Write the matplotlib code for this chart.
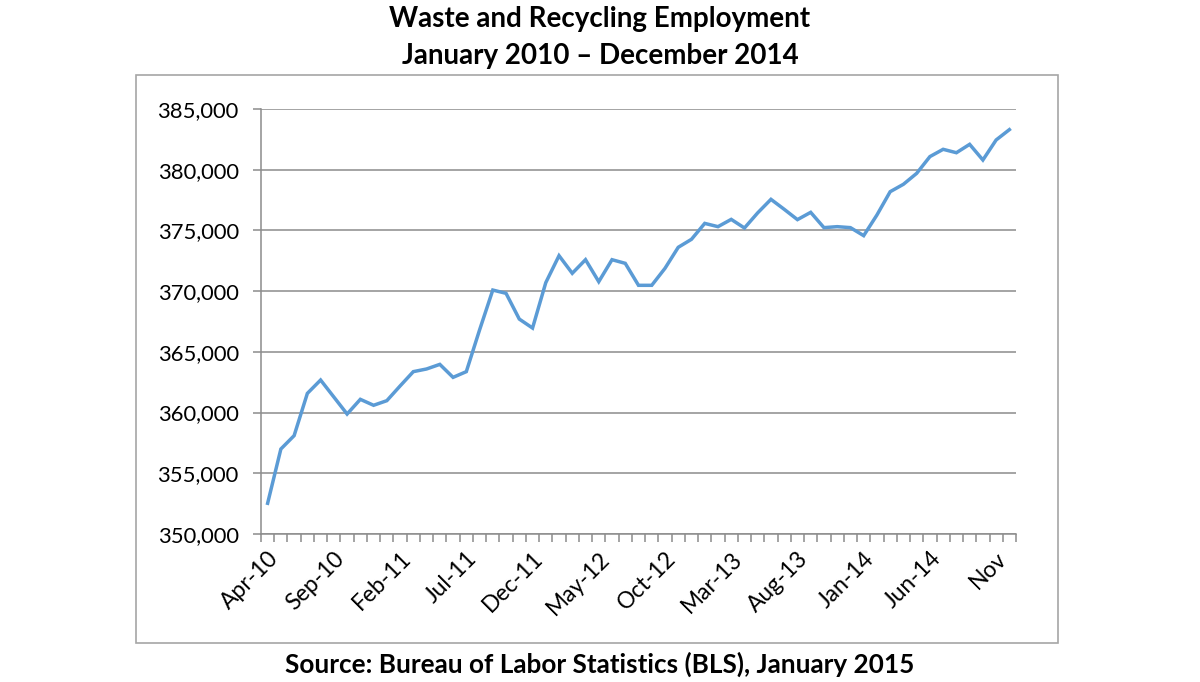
import numpy as np
import matplotlib.pyplot as plt
from matplotlib.patches import Rectangle
from matplotlib.ticker import FuncFormatter

# monthly employment, Apr-10 .. Dec-14
months = ['Apr-10', 'May-10', 'Jun-10', 'Jul-10', 'Aug-10', 'Sep-10', 'Oct-10', 'Nov-10', 'Dec-10',
          'Jan-11', 'Feb-11', 'Mar-11', 'Apr-11', 'May-11', 'Jun-11', 'Jul-11', 'Aug-11', 'Sep-11',
          'Oct-11', 'Nov-11', 'Dec-11', 'Jan-12', 'Feb-12', 'Mar-12', 'Apr-12', 'May-12', 'Jun-12',
          'Jul-12', 'Aug-12', 'Sep-12', 'Oct-12', 'Nov-12', 'Dec-12', 'Jan-13', 'Feb-13', 'Mar-13',
          'Apr-13', 'May-13', 'Jun-13', 'Jul-13', 'Aug-13', 'Sep-13', 'Oct-13', 'Nov-13', 'Dec-13',
          'Jan-14', 'Feb-14', 'Mar-14', 'Apr-14', 'May-14', 'Jun-14', 'Jul-14', 'Aug-14', 'Sep-14',
          'Oct-14', 'Nov', 'Dec-14']
employment = [352530, 357000, 358100, 361580, 362680, 361280, 359880, 361090, 360600,
              360980, 362190, 363370, 363590, 363970, 362900, 363370, 366800, 370090,
              369820, 367700, 366960, 370700, 372920, 371470, 372590, 370780, 372590,
              372290, 370480, 370480, 371880, 373610, 374270, 375580, 375310, 375910,
              375200, 376450, 377560, 376740, 375890, 376490, 375230, 375310, 375230,
              374570, 376270, 378190, 378800, 379700, 381080, 381680, 381400, 382090,
              380800, 382450, 383300]
label_every = 5

plt.rcParams['font.family'] = ['Lato', 'DejaVu Sans']

W, H = 1200, 682
fig = plt.figure(figsize=(W / 100, H / 100), dpi=100)

# outer chart frame
fig.patches.append(Rectangle((136 / W, 1 - 643 / H), (1058 - 136) / W, (643 - 75) / H,
                             transform=fig.transFigure, fill=False,
                             edgecolor='#a6a6a6', linewidth=1.2))

ax = fig.add_axes([261 / W, 1 - 534 / H, (1016 - 261) / W, (534 - 109) / H])
x = np.arange(len(employment))
ax.plot(x, employment, color='#5b9bd5', linewidth=2.5, solid_joinstyle='miter')

ax.set_xlim(-0.5, len(employment) - 0.5)
ax.set_ylim(350000, 385000)
ax.set_yticks(np.arange(350000, 385001, 5000))
ax.yaxis.set_major_formatter(FuncFormatter(lambda v, p: f'{int(v):,}'))
ax.grid(axis='y', color='#8c8c8c', linewidth=1.1)
ax.set_axisbelow(True)

ax.set_xticks(x[::label_every])
ax.set_xticklabels(months[::label_every], rotation=45, ha='right', rotation_mode='anchor')
ax.set_xticks(np.arange(-0.5, len(employment)), minor=True)
ax.tick_params(axis='x', which='major', length=0, pad=10, labelsize=16.5)
ax.tick_params(axis='x', which='minor', length=6, color='#8c8c8c', width=1.1)
ax.tick_params(axis='y', length=6, color='#8c8c8c', width=1.1, labelsize=15.8, pad=10)

for side in ['top', 'right']:
    ax.spines[side].set_visible(False)
for side in ['left', 'bottom']:
    ax.spines[side].set_color('#8c8c8c')
    ax.spines[side].set_linewidth(1.1)

fig.text(0.5, 1 - 19 / H, 'Waste and Recycling Employment', ha='center', va='center',
         fontsize=20, fontweight='bold')
fig.text(0.5, 1 - 56 / H, 'January 2010 \u2013 December 2014', ha='center', va='center',
         fontsize=20, fontweight='bold')
fig.text(0.5, 1 - 664 / H, 'Source: Bureau of Labor Statistics (BLS), January 2015',
         ha='center', va='center', fontsize=18.8, fontweight='bold')

fig.savefig('out.png', dpi=100)
